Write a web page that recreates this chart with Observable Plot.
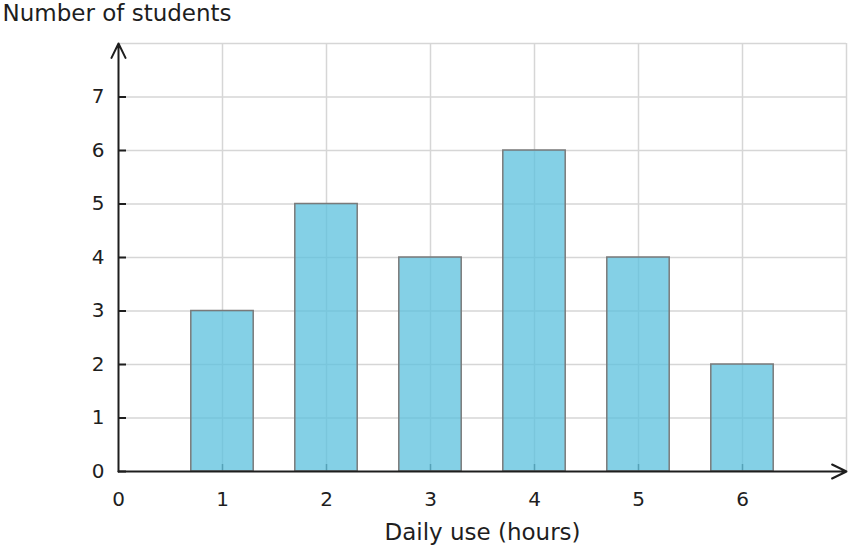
<!DOCTYPE html>
<html>
<head>
<meta charset="utf-8">
<script src="https://cdn.jsdelivr.net/npm/d3@7"></script>
<script src="https://cdn.jsdelivr.net/npm/@observablehq/plot@0.6"></script>
<style>
  html, body { margin: 0; padding: 0; background: #fff; }
  #chart svg { display: block; }
</style>
</head>
<body>
<div id="chart"></div>
<script>
// Data
const hours = [1, 2, 3, 4, 5, 6];
const students = [3, 5, 4, 6, 4, 2];
const xTickLabels = [0, 1, 2, 3, 4, 5, 6];
const yTickLabels = [0, 1, 2, 3, 4, 5, 6, 7];
const xGridValues = [1, 2, 3, 4, 5, 6, 7];
const yGridValues = [1, 2, 3, 4, 5, 6, 7, 8];
const xDomain = [0, 7];
const yDomain = [0, 8];
const titleText = "Number of students";
const xLabelText = "Daily use (hours)";

const data = hours.map((h, i) => ({hours: h, count: students[i]}));
const halfWidth = 0.3;
const ink = "#1e1e1e";

const plot = Plot.plot({
  width: 850,
  height: 548,
  marginTop: 43,
  marginRight: 4,
  marginBottom: 77,
  marginLeft: 118,
  style: {fontFamily: "DejaVu Sans", fontSize: "20px", background: "#fff", color: ink},
  x: {domain: xDomain, axis: null},
  y: {domain: yDomain, axis: null},
  marks: [
    Plot.gridX(xGridValues, {stroke: "#d6d6d6", strokeOpacity: 1, strokeWidth: 1.5}),
    Plot.gridY(yGridValues, {stroke: "#d6d6d6", strokeOpacity: 1, strokeWidth: 1.5}),
    // inward tick marks
    Plot.ruleX(hours, {x: d => d, y1: yDomain[0], y2: yDomain[0], insetTop: -7, stroke: "#444", strokeWidth: 1.5}),
    Plot.ruleY(yTickLabels, {y: d => d, x1: xDomain[0], x2: xDomain[0], insetRight: -8, stroke: ink, strokeWidth: 2}),
    // bars
    Plot.rectY(data, {
      x1: d => d.hours - halfWidth,
      x2: d => d.hours + halfWidth,
      y1: 0,
      y2: "count",
      fill: "#5bc0de",
      fillOpacity: 0.75,
      stroke: "#7a7a7a",
      strokeWidth: 1.5
    }),
    // axis lines with arrows
    Plot.arrow([0], {x1: xDomain[0], x2: xDomain[1], y1: yDomain[0], y2: yDomain[0], stroke: ink, strokeWidth: 2, headLength: 12, headAngle: 52}),
    Plot.arrow([0], {x1: xDomain[0], x2: xDomain[0], y1: yDomain[0], y2: yDomain[1], stroke: ink, strokeWidth: 2, headLength: 12, headAngle: 52}),
    // tick labels
    Plot.text(xTickLabels, {x: d => d, y: yDomain[0], text: d => String(d), dy: 20, lineAnchor: "top", textAnchor: "middle", fontSize: "20px", fill: ink}),
    Plot.text(yTickLabels, {x: xDomain[0], y: d => d, text: d => String(d), dx: -14, lineAnchor: "middle", textAnchor: "end", fontSize: "20px", fill: ink}),
    // titles
    Plot.text([titleText], {frameAnchor: "top-left", text: d => d, dx: -116, dy: -39, textAnchor: "start", lineAnchor: "top", fontSize: 23, fill: ink}),
    Plot.text([xLabelText], {frameAnchor: "bottom", text: d => d, dy: 52, textAnchor: "middle", lineAnchor: "top", fontSize: 23, fill: ink})
  ]
});
document.getElementById("chart").appendChild(plot);
</script>
</body>
</html>
